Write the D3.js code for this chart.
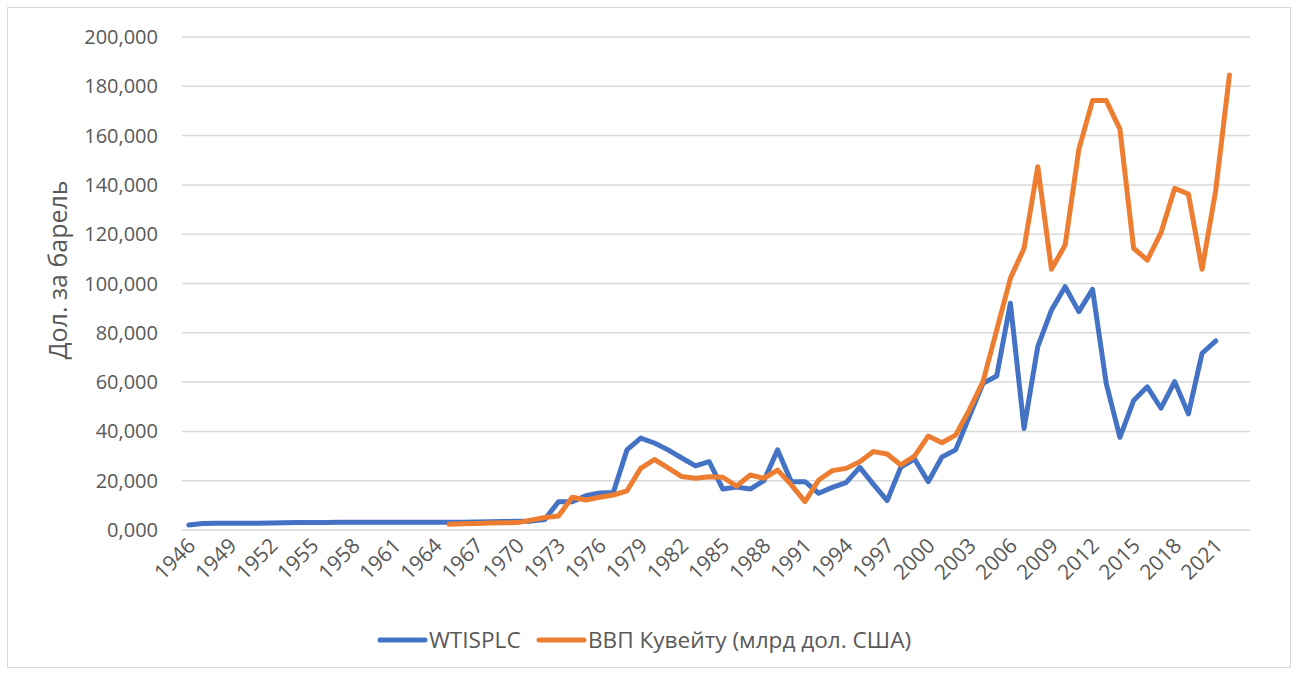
<!DOCTYPE html>
<html><head><meta charset="utf-8">
<script src="https://cdn.jsdelivr.net/npm/d3@7"></script>
<style>
html,body{margin:0;padding:0;background:#fff;}
svg{display:block;font-family:"Open Sans","Noto Sans",sans-serif;}
</style></head><body>
<svg id="chart" width="1296" height="675"></svg>
<script>
// Categories: 1946..2023
const years = d3.range(1946, 2024);
const tickYears = d3.range(1946, 2024, 3);
const yTicks = [0,20,40,60,80,100,120,140,160,180,200];

// WTISPLC, 1946..2021
const wtiStart = 1946;
const wti = [
  2.0, 2.6, 2.7, 2.7, 2.7, 2.7, 2.8, 2.9, 3.0, 3.0,
  3.0, 3.1, 3.1, 3.1, 3.1, 3.1, 3.1, 3.1, 3.1, 3.1,
  3.1, 3.2, 3.3, 3.4, 3.5, 3.6, 4.3, 11.5, 11.5, 13.9,
  15.0, 15.2, 32.5, 37.3, 35.3, 32.5, 29.2, 26.0, 27.7, 16.6,
  17.4, 16.6, 20.0, 32.5, 19.6, 19.6, 14.9, 17.3, 19.2, 25.4,
  18.5, 11.9, 25.5, 28.8, 19.6, 29.6, 32.5, 46.0, 59.5, 62.5,
  92.0, 41.2, 74.4, 89.2, 98.7, 88.6, 97.6, 59.5, 37.6, 52.5,
  58.1, 49.4, 60.2, 47.1, 71.7, 76.7
];

// ВВП Кувейту (млрд дол. США), 1965..2022
const gdpStart = 1965;
const gdp = [
  2.3, 2.5, 2.6, 2.8, 2.9, 3.0, 4.0, 5.1, 5.7, 13.3,
  12.2, 13.3, 14.2, 15.9, 25.0, 28.6, 25.2, 21.7, 21.0, 21.6,
  21.4, 17.8, 22.3, 21.0, 24.3, 18.3, 11.5, 20.3, 24.1, 25.0,
  27.7, 31.8, 30.8, 26.4, 30.0, 38.1, 35.4, 38.5, 48.7, 60.2,
  81.1, 102.1, 114.3, 147.4, 105.8, 115.6, 154.4, 174.2, 174.2, 162.6,
  114.3, 109.5, 120.6, 138.6, 136.3, 105.8, 137.9, 184.6
];

const seriesNames = ["WTISPLC", "ВВП Кувейту (млрд дол. США)"];
const colors = ["#4472C4", "#ED7D31"];
const yTitle = "Дол. за барель";

const svg = d3.select("#chart");
// outer border
svg.append("rect").attr("x",7.5).attr("y",7.5).attr("width",1283).attr("height",660)
  .attr("fill","#fff").attr("stroke","#d9d9d9").attr("stroke-width",1);

const x = d3.scaleBand().domain(years).range([182,1250]).padding(0);
const y = d3.scaleLinear().domain([0,200]).range([530,37]);
const cx = d => x(d) + x.bandwidth()/2;

const loc = d3.formatLocale({decimal:",", thousands:" ", grouping:[3], currency:["",""]});
const fmt = loc.format(".3f");

// gridlines
svg.append("g").selectAll("line").data(yTicks).join("line")
  .attr("x1",182).attr("x2",1250)
  .attr("y1",d=>y(d)).attr("y2",d=>y(d))
  .attr("stroke","#d9d9d9").attr("stroke-width",1.5);

// y labels
svg.append("g").selectAll("text").data(yTicks).join("text")
  .attr("x",158).attr("y",d=>y(d)).attr("dy","0.35em")
  .attr("text-anchor","end").attr("fill","#595959").attr("font-size",20)
  .text(d=>fmt(d));

// y title
svg.append("text").attr("transform","translate(67,270) rotate(-90)")
  .attr("text-anchor","middle").attr("fill","#595959").attr("font-size",25)
  .text(yTitle);

// x labels
svg.append("g").selectAll("text").data(tickYears).join("text")
  .attr("transform",d=>`translate(${cx(d)+8},${547}) rotate(-45)`)
  .attr("text-anchor","end").attr("fill","#595959").attr("font-size",21)
  .text(d=>d);

const wtiData = wti.map((v,i)=>({year:wtiStart+i, v}));
const gdpData = gdp.map((v,i)=>({year:gdpStart+i, v}));

const line = d3.line().x(d=>cx(d.year)).y(d=>y(d.v));
[wtiData, gdpData].forEach((data,i)=>{
  svg.append("path").datum(data).attr("d",line)
    .attr("fill","none").attr("stroke",colors[i]).attr("stroke-width",5)
    .attr("stroke-linejoin","round").attr("stroke-linecap","round");
});

// legend
const leg = [{x0:380,x1:425,tx:429},{x0:539,x1:584,tx:588}];
leg.forEach((l,i)=>{
  svg.append("line").attr("x1",l.x0).attr("x2",l.x1).attr("y1",640).attr("y2",640)
    .attr("stroke",colors[i]).attr("stroke-width",5).attr("stroke-linecap","round");
  svg.append("text").attr("x",l.tx).attr("y",640).attr("dy","0.35em")
    .attr("fill","#595959").attr("font-size",22.6).text(seriesNames[i]);
});
</script>
</body></html>
